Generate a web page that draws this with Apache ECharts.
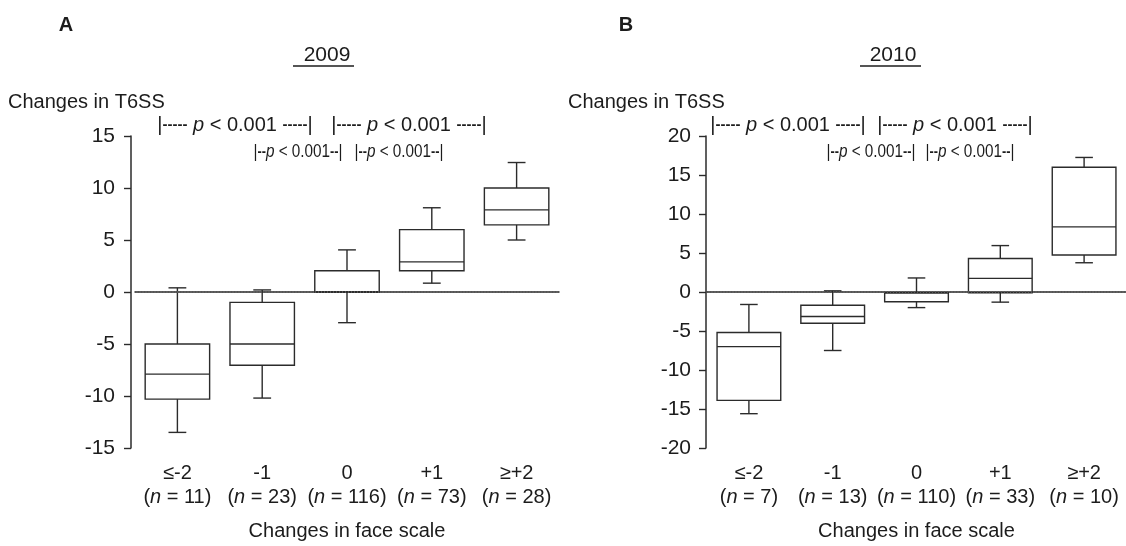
<!DOCTYPE html>
<html>
<head>
<meta charset="utf-8">
<script src="https://cdn.jsdelivr.net/npm/echarts@6/dist/echarts.min.js"></script>
<style>
html, body { margin: 0; padding: 0; background: #fff; }
#main { width: 1126px; height: 546px; }
</style>
</head>
<body>
<div id="main"></div>
<script>
var categories = ['≤-2', '-1', '0', '+1', '≥+2'];
var nA = [11, 23, 116, 73, 28];
var nB = [7, 13, 110, 33, 10];
// each row: [lower whisker, Q1, median, Q3, upper whisker]
var boxA = [
  [-13.5, -10.3, -7.9, -5, 0.4],
  [-10.2, -7.05, -5, -1, 0.2],
  [-2.95, 0, 0, 2.05, 4.05],
  [0.85, 2.05, 2.9, 6, 8.1],
  [5, 6.45, 7.9, 10, 12.45]
];
var boxB = [
  [-15.6, -13.9, -7, -5.2, -1.6],
  [-7.5, -4, -3.15, -1.7, 0.15],
  [-2, -1.25, -0.1, -0.1, 1.8],
  [-1.3, -0.1, 1.75, 4.3, 5.95],
  [3.75, 4.75, 8.35, 16, 17.25]
];
var yTicksA = [-15, -10, -5, 0, 5, 10, 15];
var yTicksB = [-20, -15, -10, -5, 0, 5, 10, 15, 20];
var zeroLine = 0;

var FONT = '"Liberation Sans", Arial, Helvetica, sans-serif';
var INK = '#1c1c1c';
var LINE = '#2b2b2b';

function lineStyle() {
  return { stroke: LINE, lineWidth: 1.4, fill: 'none' };
}

function renderBox(params, api) {
  var i = api.value(0);
  var lo = api.coord([i, api.value(1)]);
  var q1 = api.coord([i, api.value(2)]);
  var md = api.coord([i, api.value(3)]);
  var q3 = api.coord([i, api.value(4)]);
  var hi = api.coord([i, api.value(5)]);
  var band = api.size([1, 0])[0];
  var hw = band * 0.38, cw = band * 0.105;
  var x = lo[0];
  return {
    type: 'group',
    children: [
      { type: 'line', shape: { x1: x, y1: q3[1], x2: x, y2: hi[1] }, style: lineStyle() },
      { type: 'line', shape: { x1: x - cw, y1: hi[1], x2: x + cw, y2: hi[1] }, style: lineStyle() },
      { type: 'line', shape: { x1: x, y1: q1[1], x2: x, y2: lo[1] }, style: lineStyle() },
      { type: 'line', shape: { x1: x - cw, y1: lo[1], x2: x + cw, y2: lo[1] }, style: lineStyle() },
      { type: 'rect', shape: { x: x - hw, y: q3[1], width: hw * 2, height: q1[1] - q3[1] }, style: lineStyle() },
      { type: 'line', shape: { x1: x - hw, y1: md[1], x2: x + hw, y2: md[1] }, style: lineStyle() }
    ]
  };
}

var labelRich = {
  a: { fontFamily: FONT, fontSize: 20, color: INK, lineHeight: 24 },
  b: { fontFamily: FONT, fontSize: 20, color: INK, lineHeight: 24 },
  i: { fontFamily: FONT, fontSize: 20, fontStyle: 'italic', color: INK, lineHeight: 24 }
};

function xAxisFor(gridIndex, ns) {
  return {
    type: 'category',
    gridIndex: gridIndex,
    data: categories,
    boundaryGap: true,
    axisLine: { lineStyle: { color: LINE, width: 1.5 } },
    axisTick: { alignWithLabel: true, length: 5, lineStyle: { color: LINE, width: 1.4 } },
    axisLabel: {
      interval: 0,
      margin: 13,
      formatter: function (v, idx) {
        return '{a|' + v + '}\n{b|(}{i|n}{b| = ' + ns[idx] + ')}';
      },
      rich: labelRich
    },
    name: 'Changes in face scale',
    nameLocation: 'middle',
    nameGap: 83,
    nameTextStyle: { fontFamily: FONT, fontSize: 20, color: INK, verticalAlign: 'middle' },
    splitLine: { show: false }
  };
}

function yAxisFor(gridIndex, ticks, offset, margin) {
  return {
    type: 'value',
    gridIndex: gridIndex,
    min: ticks[0],
    max: ticks[ticks.length - 1],
    interval: ticks[1] - ticks[0],
    offset: offset,
    axisLine: { show: true, lineStyle: { color: LINE, width: 1.5 } },
    axisTick: { show: true, length: 7, lineStyle: { color: LINE, width: 1.4 } },
    axisLabel: { margin: margin, fontFamily: FONT, fontSize: 21, color: INK },
    splitLine: { show: false }
  };
}

function boxSeries(idx, rows) {
  return {
    type: 'custom',
    xAxisIndex: idx,
    yAxisIndex: idx,
    renderItem: renderBox,
    encode: { x: 0, y: [1, 2, 3, 4, 5] },
    data: rows.map(function (r, i) { return [i].concat(r); }),
    markLine: {
      silent: true,
      symbol: 'none',
      label: { show: false },
      lineStyle: { type: [1, 2], color: '#555', width: 2.2 },
      data: [{ yAxis: zeroLine }]
    },
    z: 3
  };
}

function txt(x, y, s, opts) {
  opts = opts || {};
  return {
    type: 'text',
    x: x, y: y,
    scaleX: opts.scaleX || 1,
    style: {
      text: s,
      fontFamily: FONT,
      fontSize: opts.size || 20,
      fontWeight: opts.weight || 'normal',
      fill: INK,
      align: opts.align || 'center',
      textAlign: opts.align || 'center',
      verticalAlign: 'middle',
      textVerticalAlign: 'middle',
      rich: opts.rich
    }
  };
}

var bigRich = {
  t: { fontFamily: FONT, fontSize: 20, fill: INK, color: INK },
  i: { fontFamily: FONT, fontSize: 20, fontStyle: 'italic', fill: INK, color: INK },
  d: { fontFamily: FONT, fontSize: 15, fontWeight: 'bold', fill: INK, color: INK }
};
var smallRich = {
  t: { fontFamily: FONT, fontSize: 18, fill: INK, color: INK },
  i: { fontFamily: FONT, fontSize: 18, fontStyle: 'italic', fill: INK, color: INK },
  d: { fontFamily: FONT, fontSize: 15, fontWeight: 'bold', fill: INK, color: INK }
};
var bigP = '{t||}{d|-----}{t| }{i|p}{t| < 0.001 }{d|-----}{t||}';
var smallP = '{t||}{d|--}{i|p}{t| < 0.001}{d|--}{t||}';

var chart = echarts.init(document.getElementById('main'));
chart.setOption({
  backgroundColor: '#fff',
  animation: false,
  grid: [
    { left: 135, top: 136, width: 424, height: 313 },
    { left: 707, top: 136, width: 422, height: 313 }
  ],
  xAxis: [xAxisFor(0, nA), xAxisFor(1, nB)],
  yAxis: [yAxisFor(0, yTicksA, 4, 16), yAxisFor(1, yTicksB, 1, 15)],
  series: [boxSeries(0, boxA), boxSeries(1, boxB)],
  graphic: [
    txt(66, 25, 'A', { weight: 'bold' }),
    txt(626, 25, 'B', { weight: 'bold' }),
    txt(327, 55, '2009', { size: 21 }),
    txt(893, 55, '2010', { size: 21 }),
    { type: 'line', shape: { x1: 293, y1: 66, x2: 354, y2: 66 }, style: { stroke: INK, lineWidth: 1.3 } },
    { type: 'line', shape: { x1: 860, y1: 66, x2: 921, y2: 66 }, style: { stroke: INK, lineWidth: 1.3 } },
    txt(8, 102, 'Changes in T6SS', { align: 'left' }),
    txt(568, 102, 'Changes in T6SS', { align: 'left' }),
    txt(235, 125, bigP, { rich: bigRich }),
    txt(409, 125, bigP, { rich: bigRich }),
    txt(788, 125, bigP, { rich: bigRich }),
    txt(955, 125, bigP, { rich: bigRich }),
    txt(298, 152, smallP, { rich: smallRich, scaleX: 0.85 }),
    txt(399, 152, smallP, { rich: smallRich, scaleX: 0.85 }),
    txt(871, 152, smallP, { rich: smallRich, scaleX: 0.85 }),
    txt(970, 152, smallP, { rich: smallRich, scaleX: 0.85 })
  ]
});
</script>
</body>
</html>
